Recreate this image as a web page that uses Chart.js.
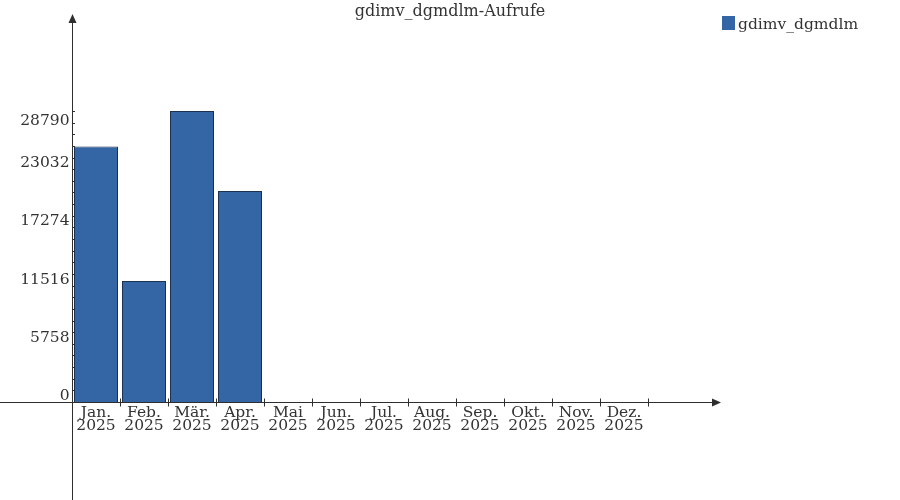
<!DOCTYPE html>
<html>
<head>
<meta charset="utf-8">
<style>
  html, body { margin: 0; padding: 0; background: #fff; }
  #wrap { width: 900px; height: 500px; }
</style>
<script src="https://cdn.jsdelivr.net/npm/chart.js@4/dist/chart.umd.min.js"></script>
</head>
<body>
<div id="wrap"><canvas id="chartAufrufe" width="900" height="500"></canvas></div>
<script>
// Daten
const monate = ['Jan.', 'Feb.', 'Mär.', 'Apr.', 'Mai', 'Jun.', 'Jul.', 'Aug.', 'Sep.', 'Okt.', 'Nov.', 'Dez.'];
const jahr = '2025';
const aufrufe = [25290, 11970, 28790, 20870, 0, 0, 0, 0, 0, 0, 0, 0];
const yTicks = [0, 5758, 11516, 17274, 23032, 28790];
const reihenName = 'gdimv_dgmdlm';
const titel = 'gdimv_dgmdlm-Aufrufe';

const balkenFarbe = '#3465a4';
const randFarbe = '#1c3050';
const textFarbe = '#333333';
const achsenFarbe = '#2e2e2e';
const schrift = '"DejaVu Serif", serif';

// Achsen mit Pfeilen, Ticks und Beschriftungen selbst zeichnen
const achsenPlugin = {
    id: 'achsen',
    beforeDatasetsDraw(chart) {
        const ctx = chart.ctx;
        const y = chart.scales.y;
        const x = chart.scales.x;
        // kleine Ticks (5 pro Hauptschritt)
        ctx.save();
        ctx.strokeStyle = achsenFarbe;
        ctx.lineWidth = 1;
        for (let i = 0; i < yTicks.length - 1; i++) {
            const schritt = (yTicks[i + 1] - yTicks[i]) / 5;
            for (let k = 0; k < 5; k++) {
                const py = Math.round(y.getPixelForValue(yTicks[i] + k * schritt)) + 0.5;
                ctx.beginPath();
                ctx.moveTo(x.left, py);
                ctx.lineTo(x.left + 3, py);
                ctx.stroke();
            }
        }
        const pTop = Math.round(y.getPixelForValue(yTicks[yTicks.length - 1])) + 0.5;
        ctx.beginPath();
        ctx.moveTo(x.left, pTop);
        ctx.lineTo(x.left + 3, pTop);
        ctx.stroke();
        ctx.restore();
    },
    afterDatasetsDraw(chart) {
        const ctx = chart.ctx;
        const x = chart.scales.x;
        const y = chart.scales.y;
        const ax = Math.round(x.left) + 0.5;
        const ay = Math.round(y.getPixelForValue(0)) + 0.5;

        ctx.save();
        ctx.strokeStyle = achsenFarbe;
        ctx.fillStyle = achsenFarbe;
        ctx.lineWidth = 1;

        // y-Achse
        ctx.beginPath();
        ctx.moveTo(ax, chart.height);
        ctx.lineTo(ax, 20);
        ctx.stroke();
        ctx.beginPath();
        ctx.moveTo(ax, 14);
        ctx.lineTo(ax - 4, 23);
        ctx.lineTo(ax + 4, 23);
        ctx.closePath();
        ctx.fill();

        // x-Achse
        ctx.beginPath();
        ctx.moveTo(0, ay);
        ctx.lineTo(714, ay);
        ctx.stroke();
        ctx.beginPath();
        ctx.moveTo(721, ay);
        ctx.lineTo(712, ay - 4);
        ctx.lineTo(712, ay + 4);
        ctx.closePath();
        ctx.fill();

        // x-Ticks an den Kategoriegrenzen
        for (let i = 1; i <= monate.length; i++) {
            const px = Math.round(x.getPixelForValue(i - 0.5)) + 0.5;
            ctx.beginPath();
            ctx.moveTo(px, ay - 4);
            ctx.lineTo(px, ay + 4);
            ctx.stroke();
        }

        // Beschriftungen
        ctx.fillStyle = textFarbe;
        ctx.font = '15.5px ' + schrift;
        ctx.textAlign = 'right';
        ctx.textBaseline = 'alphabetic';
        yTicks.forEach((v, i) => {
            const py = y.getPixelForValue(v);
            const dy = (i === yTicks.length - 1) ? 14 : -2;
            ctx.fillText(String(v), ax - 3, py + dy);
        });

        ctx.textAlign = 'center';
        monate.forEach((m, i) => {
            const px = x.getPixelForValue(i);
            ctx.fillText(m, px, ay + 14);
            ctx.fillText(jahr, px, ay + 27);
        });

        // Titel
        ctx.font = '16px ' + schrift;
        ctx.fillText(titel, chart.width / 2, 16);

        // Legende
        ctx.fillStyle = balkenFarbe;
        ctx.fillRect(722, 16, 13, 14);
        ctx.fillStyle = textFarbe;
        ctx.font = '15.5px ' + schrift;
        ctx.textAlign = 'left';
        ctx.fillText(reihenName, 738, 28.5);
        ctx.restore();
    }
};

new Chart(document.getElementById('chartAufrufe'), {
    type: 'bar',
    data: {
        labels: monate,
        datasets: [{
            label: reihenName,
            data: aufrufe,
            backgroundColor: balkenFarbe,
            borderColor: randFarbe,
            borderWidth: 1,
            categoryPercentage: 1,
            barPercentage: 0.917
        }]
    },
    options: {
        responsive: false,
        animation: false,
        events: [],
        layout: {
            padding: { left: 72, right: 252, top: 111, bottom: 98 }
        },
        scales: {
            x: { display: false, offset: true },
            y: { display: false, min: 0, max: yTicks[yTicks.length - 1] }
        },
        plugins: {
            legend: { display: false },
            title: { display: false },
            tooltip: { enabled: false }
        }
    },
    plugins: [achsenPlugin]
});
</script>
</body>
</html>
